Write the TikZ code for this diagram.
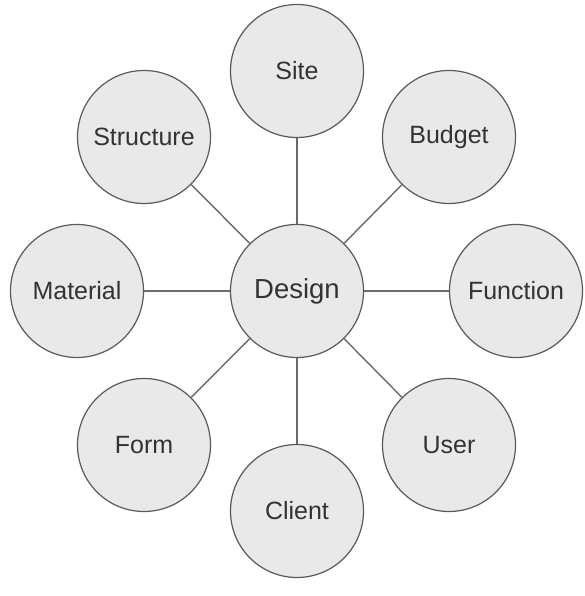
\documentclass[tikz,border=0pt]{standalone}
\usepackage{fontspec}
\setmainfont{Liberation Sans}
\definecolor{circfill}{HTML}{E9E9E9}
\definecolor{circdraw}{HTML}{5A5A5A}
\definecolor{linkcol}{HTML}{6A6A6A}
\definecolor{txtcol}{HTML}{333333}
\tikzset{
  topic/.style={circle, draw=circdraw, fill=circfill, line width=1.2pt,
    minimum size=133pt, inner sep=0pt, text=txtcol, font=\fontsize{25}{28}\selectfont},
  hub/.style={topic, font=\fontsize{27.5}{31}\selectfont},
  link/.style={draw=linkcol, line width=1.4pt}
}
\begin{document}
\begin{tikzpicture}[x=1pt,y=1pt]
\useasboundingbox (0,0) rectangle (585,596);
\node[hub]   (design)    at (297,305) {Design};
\node[topic] (site)      at (297,525) {Site};
\node[topic] (client)    at (297,85)  {Client};
\node[topic] (material)  at (77,305)  {Material};
\node[topic] (function)  at (516,305) {Function};
\node[topic] (structure) at (144,459) {Structure};
\node[topic] (budget)    at (449,459) {Budget};
\node[topic] (form)      at (144,151) {Form};
\node[topic] (user)      at (449,151) {User};
\foreach \n in {site,client,material,function,structure,budget,form,user}
  \draw[link] (design) -- (\n);
\end{tikzpicture}
\end{document}
